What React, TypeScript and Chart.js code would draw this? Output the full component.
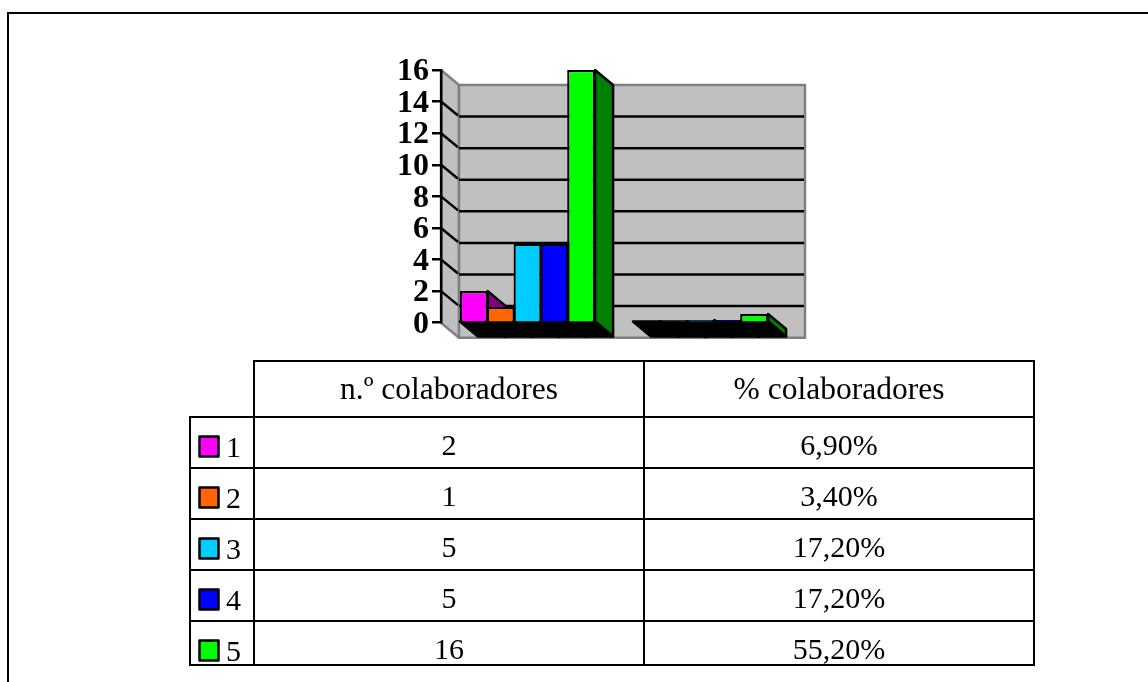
import React, { useEffect, useRef } from "react";
import { Chart, registerables } from "chart.js";

Chart.register(...registerables);

const categories = ["n.º colaboradores", "% colaboradores"];
const seriesNames = ["1", "2", "3", "4", "5"];
const counts = [2, 1, 5, 5, 16];
const shares = [0.069, 0.034, 0.172, 0.172, 0.552];
const countLabels = ["2", "1", "5", "5", "16"];
const shareLabels = ["6,90%", "3,40%", "17,20%", "17,20%", "55,20%"];
const faceColors = ["#FF00FF", "#FF6600", "#00CCFF", "#0000FF", "#00FF00"];
const sideColors = ["#800080", "#803300", "#006680", "#000080", "#008000"];

const WIDTH = 1148;
const HEIGHT = 682;
const DEPTH_X = 18;
const DEPTH_Y = 15;
const SERIF = '"Liberation Serif", "Times New Roman", serif';

type Ctx = CanvasRenderingContext2D;

function polygon(ctx: Ctx, pts: number[][], fill: string | null, stroke: string | null, lw = 2.5) {
  ctx.beginPath();
  pts.forEach(([x, y], i) => (i ? ctx.lineTo(x, y) : ctx.moveTo(x, y)));
  ctx.closePath();
  if (fill) {
    ctx.fillStyle = fill;
    ctx.fill();
  }
  if (stroke) {
    ctx.strokeStyle = stroke;
    ctx.lineWidth = lw;
    ctx.lineJoin = "round";
    ctx.stroke();
  }
}

function segment(ctx: Ctx, x1: number, y1: number, x2: number, y2: number, color = "#000", lw = 2) {
  ctx.beginPath();
  ctx.moveTo(x1, y1);
  ctx.lineTo(x2, y2);
  ctx.strokeStyle = color;
  ctx.lineWidth = lw;
  ctx.stroke();
}

// Side wall, back wall and gridlines of the box behind the bars.
const wallsPlugin = {
  id: "walls",
  beforeDraw(chart: any) {
    const { ctx, chartArea: a, scales } = chart;
    const y = scales.y;
    ctx.save();
    const top = a.top;
    const bottom = a.bottom;
    polygon(ctx, [[a.left, top], [a.left + DEPTH_X, top + DEPTH_Y], [a.left + DEPTH_X, bottom + DEPTH_Y], [a.left, bottom]], "#C0C0C0", "#808080");
    polygon(ctx, [[a.left + DEPTH_X, top + DEPTH_Y], [a.right + DEPTH_X, top + DEPTH_Y], [a.right + DEPTH_X, bottom + DEPTH_Y], [a.left + DEPTH_X, bottom + DEPTH_Y]], "#C0C0C0", "#808080");
    for (const tick of y.ticks) {
      if (tick.value === y.min || tick.value === y.max) continue;
      const py = y.getPixelForValue(tick.value);
      segment(ctx, a.left, py, a.left + DEPTH_X - 1, py + DEPTH_Y - 1, "#000", 2.5);
      segment(ctx, a.left + DEPTH_X, py + DEPTH_Y, a.right + DEPTH_X - 1, py + DEPTH_Y, "#000", 2.5);
    }
    ctx.restore();
  },
  // Receding sides first, then floor shadows; the front faces go on top.
  beforeDatasetsDraw(chart: any) {
    const { ctx } = chart;
    ctx.save();
    const metas = chart.data.datasets.map((_: unknown, i: number) => chart.getDatasetMeta(i));
    metas.forEach((meta: any, i: number) => {
      meta.data.forEach((bar: any) => {
        const r = bar.x + bar.width / 2;
        polygon(ctx, [[r, bar.y], [r + DEPTH_X, bar.y + DEPTH_Y], [r + DEPTH_X, bar.base + DEPTH_Y], [r, bar.base]], sideColors[i], "#000");
      });
    });
    metas.forEach((meta: any) => {
      meta.data.forEach((bar: any) => {
        const l = bar.x - bar.width / 2;
        const r = bar.x + bar.width / 2;
        polygon(ctx, [[l, bar.base], [r, bar.base], [r + DEPTH_X, bar.base + DEPTH_Y], [l + DEPTH_X, bar.base + DEPTH_Y]], "#000", "#000");
      });
    });
    ctx.restore();
  },
};

// Data table under the plot, plus the open frame of the figure.
const tablePlugin = {
  id: "dataTable",
  afterDraw(chart: any) {
    const { ctx } = chart;
    const rows = [417, 468, 519, 570, 621, 665];
    const cols = [190, 254, 644, 1034];
    const tableTop = 361;
    ctx.save();
    segment(ctx, 8, 12, 8, HEIGHT, "#000", 2);
    segment(ctx, 7, 13, WIDTH, 13, "#000", 2);

    segment(ctx, cols[1] - 1, tableTop, cols[3] + 1, tableTop);
    rows.forEach((y) => segment(ctx, cols[0] - 1, y, cols[3] + 1, y));
    segment(ctx, cols[0], rows[0], cols[0], rows[5] + 1);
    cols.slice(1).forEach((x) => segment(ctx, x, tableTop, x, rows[5] + 1));

    ctx.fillStyle = "#000";
    ctx.textBaseline = "alphabetic";
    ctx.font = `31.5px ${SERIF}`;
    ctx.textAlign = "center";
    categories.forEach((name, c) => ctx.fillText(name, (cols[c + 1] + cols[c + 2]) / 2, 399));
    ctx.font = `30px ${SERIF}`;
    seriesNames.forEach((name, r) => {
      const base = rows[r] + 40;
      polygon(ctx, [[199.5, rows[r] + 19.5], [218.5, rows[r] + 19.5], [218.5, rows[r] + 39.5], [199.5, rows[r] + 39.5]], faceColors[r], "#000", 2.5);
      ctx.fillStyle = "#000";
      ctx.textAlign = "left";
      ctx.fillText(name, 226, base);
      ctx.textAlign = "center";
      ctx.fillText(countLabels[r], 449, base - 2);
      ctx.fillText(shareLabels[r], 839, base - 2);
    });
    ctx.restore();
  },
};

export default function App() {
  const ref = useRef<HTMLCanvasElement>(null);

  useEffect(() => {
    const chart = new Chart(ref.current!, {
      type: "bar",
      data: {
        labels: categories,
        datasets: seriesNames.map((label, i) => ({
          label,
          data: [counts[i], shares[i]],
          backgroundColor: faceColors[i],
          borderColor: "#000",
          borderWidth: 2.2,
          categoryPercentage: 0.775,
          barPercentage: 1.04,
        })),
      },
      options: {
        animation: false,
        responsive: false,
        layout: { padding: { left: 0, top: 70, right: WIDTH - 787, bottom: HEIGHT - 322.7 } },
        plugins: { legend: { display: false }, tooltip: { enabled: false } },
        scales: {
          x: { display: false, grid: { display: false } },
          y: {
            min: 0,
            max: 16,
            afterFit: (scale: any) => {
              scale.width = 441;
            },
            ticks: {
              stepSize: 2,
              autoSkip: false,
              color: "#000",
              padding: 3,
              labelOffset: 2,
              font: { family: SERIF, size: 32, weight: "bold" },
            },
            grid: { drawOnChartArea: false, color: "#000", lineWidth: 2.5, tickLength: 9 },
            border: { color: "#000", width: 2.5 },
          },
        },
      },
      plugins: [wallsPlugin, tablePlugin],
    } as any);
    return () => chart.destroy();
  }, []);

  return (
    <div style={{ position: "absolute", left: 0, top: 0, width: WIDTH, height: HEIGHT, background: "#fff" }}>
      <canvas ref={ref} width={WIDTH} height={HEIGHT} style={{ display: "block" }} />
    </div>
  );
}
